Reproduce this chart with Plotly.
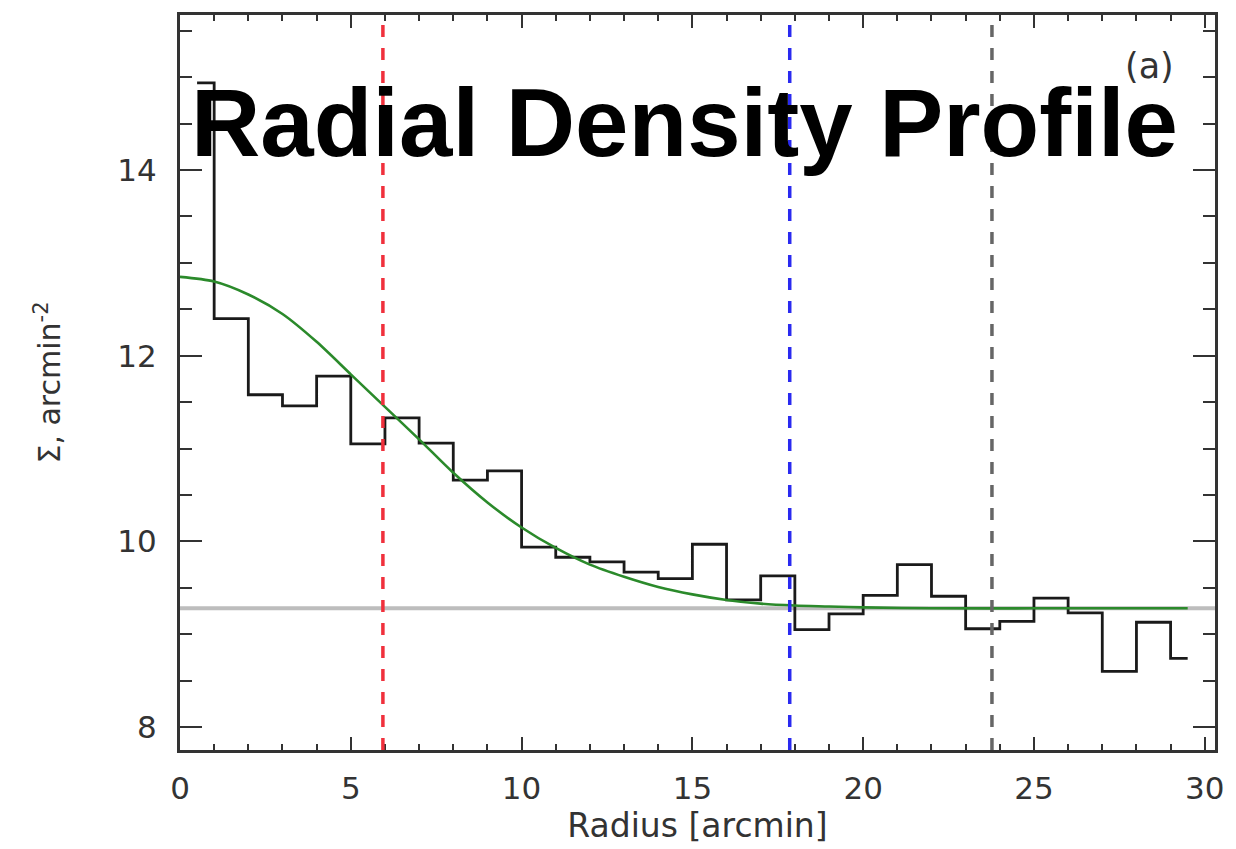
import plotly.graph_objects as go

# Radial surface-density profile: binned counts, King-like fit, background level
bin_centers = [0.5, 1.5, 2.5, 3.5, 4.5, 5.5, 6.5, 7.5, 8.5, 9.5,
               10.5, 11.5, 12.5, 13.5, 14.5, 15.5, 16.5, 17.5, 18.5, 19.5,
               20.5, 21.5, 22.5, 23.5, 24.5, 25.5, 26.5, 27.5, 28.5, 29.5]
density = [14.94, 12.40, 11.58, 11.46, 11.78, 11.05, 11.33, 11.06, 10.66, 10.76,
           9.94, 9.83, 9.78, 9.67, 9.60, 9.97, 9.37, 9.63, 9.05, 9.22,
           9.42, 9.75, 9.41, 9.06, 9.14, 9.39, 9.23, 8.60, 9.13, 8.74]

fit_radius = [0, 1, 2, 3, 4, 5, 6, 7, 8, 9, 10, 11, 12, 13, 14, 15, 16, 17,
              18, 19, 20, 22, 25, 29.5]
fit_density = [12.85, 12.80, 12.66, 12.45, 12.15, 11.80, 11.45, 11.10, 10.74,
               10.42, 10.15, 9.93, 9.75, 9.62, 9.51, 9.43, 9.37, 9.33, 9.31,
               9.30, 9.29, 9.28, 9.28, 9.28]

background = 9.28

# radii marked by dashed verticals and their colours
marker_radii = [5.94, 17.85, 23.77]
marker_colors = ["#f0303c", "#2a2af0", "#666666"]

x_ticks = [0, 5, 10, 15, 20, 25, 30]
y_ticks = [8, 10, 12, 14]

axis_col = "#333333"
tick_font = dict(family="DejaVu Sans", size=31, color="#333333")

fig = go.Figure()

fig.add_hline(y=background, line=dict(color="#bdbdbd", width=4), layer="below")

for r, c in zip(marker_radii, marker_colors):
    fig.add_vline(x=r, line=dict(color=c, width=3.5, dash="12px,11px"))

fig.add_trace(go.Scatter(
    x=bin_centers, y=density, mode="lines", line_shape="hvh",
    line=dict(color="#1a1a1a", width=2.8), showlegend=False,
))

fig.add_trace(go.Scatter(
    x=fit_radius, y=fit_density, mode="lines", line_shape="spline",
    line=dict(color="#2b8a2b", width=2.6, smoothing=0.8), showlegend=False,
))

fig.add_annotation(
    text="<b>Radial Density Profile</b>", xref="paper", yref="paper",
    x=0.487, y=0.854, xanchor="center", yanchor="middle", showarrow=False,
    font=dict(family="Liberation Sans", size=96, color="#000000"),
)
fig.add_annotation(
    text="(a)", xref="paper", yref="paper",
    x=0.937, y=0.93, xanchor="center", yanchor="middle", showarrow=False,
    font=dict(family="DejaVu Sans", size=35, color="#333333"),
)

fig.update_xaxes(
    range=[0, 30.3], tickvals=x_ticks, ticks="inside", ticklen=13, tickwidth=2,
    tickcolor=axis_col, showline=True, linewidth=3, linecolor=axis_col,
    mirror="allticks", showgrid=False, zeroline=False, tickfont=tick_font,
    ticklabelstandoff=9,
    minor=dict(dtick=1, ticks="inside", ticklen=6, tickwidth=2, tickcolor=axis_col),
    title=dict(text="Radius [arcmin]", font=dict(family="DejaVu Sans", size=33, color="#333333"),
               standoff=8),
)
fig.update_yaxes(
    range=[7.754, 15.67], tickvals=y_ticks, ticks="inside", ticklen=22, tickwidth=2,
    tickcolor=axis_col, showline=True, linewidth=3, linecolor=axis_col,
    mirror="allticks", showgrid=False, zeroline=False, tickfont=tick_font,
    ticklabelstandoff=14,
    minor=dict(dtick=0.5, ticks="inside", ticklen=12, tickwidth=2, tickcolor=axis_col),
    title=dict(text="Σ, arcmin<sup>-2</sup>", font=dict(family="DejaVu Sans", size=30, color="#333333"),
               standoff=48),
)

fig.update_layout(
    width=1236, height=849,
    margin=dict(l=180, r=21, t=12, b=98, pad=0),
    plot_bgcolor="white", paper_bgcolor="white",
    showlegend=False,
)

fig.write_html("out.html")
